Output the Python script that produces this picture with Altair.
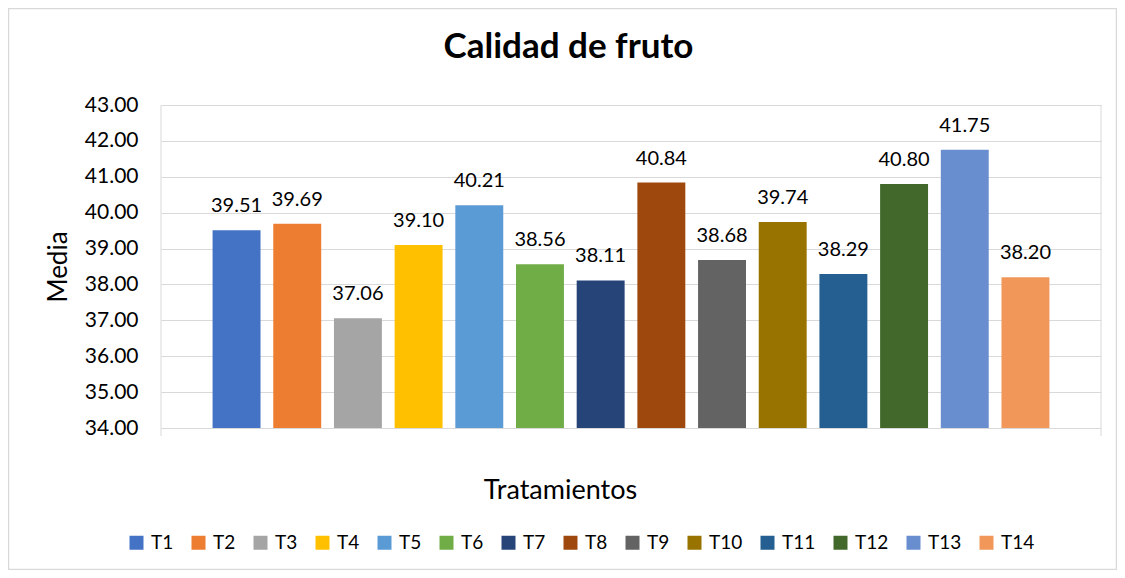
import altair as alt
import pandas as pd

# ---- data ----
tratamientos = ["T1", "T2", "T3", "T4", "T5", "T6", "T7", "T8", "T9", "T10", "T11", "T12", "T13", "T14"]
medias = [39.51, 39.69, 37.06, 39.10, 40.21, 38.56, 38.11, 40.84, 38.68, 39.74, 38.29, 40.80, 41.75, 38.20]
colores = ["#4472C4", "#ED7D31", "#A5A5A5", "#FFC000", "#5B9BD5", "#70AD47", "#264478",
           "#9E480E", "#636363", "#997300", "#255E91", "#43682B", "#698ED0", "#F1975A"]
y_ticks = [34, 35, 36, 37, 38, 39, 40, 41, 42, 43]
titulo = "Calidad de fruto"
eje_y = "Media"
eje_x = "Tratamientos"

df = pd.DataFrame({"Tratamiento": tratamientos, "Media": medias})

FONT = "Lato"
GRID = "#d9d9d9"
W, H = 940, 323

x_axis = alt.Axis(labels=False, ticks=False, domain=False, grid=False,
                  title=eje_x, titleFont=FONT, titleFontSize=27, titleFontWeight="normal",
                  titleColor="#000000", titleX=399, titleY=70,
                  titleBaseline="alphabetic", titleAlign="center")
x_scale = alt.Scale(paddingInner=0.21, paddingOuter=0.85)
x = alt.X("Tratamiento:N", sort=tratamientos, scale=x_scale, axis=x_axis)

y_axis = alt.Axis(values=y_ticks, format=".2f", ticks=False, domain=False,
                  labelPadding=23, labelFontSize=21, labelFont=FONT, labelColor="#000000",
                  labelOverlap=False, tickCount=10,
                  gridColor=GRID, gridWidth=1,
                  title=eje_y, titleFont=FONT, titleFontSize=26, titleFontWeight="normal",
                  titleColor="#000000", titleX=-103, titleY=161.5,
                  titleBaseline="middle", titleAlign="center", titleAngle=270)
y_scale = alt.Scale(domain=[34, 43], zero=False, nice=False)
y = alt.Y("Media:Q", scale=y_scale, axis=y_axis)

color = alt.Color(
    "Tratamiento:N",
    scale=alt.Scale(domain=tratamientos, range=colores),
    legend=alt.Legend(title=None, orient="none", legendX=-34, legendY=428,
                      direction="horizontal", columns=14, symbolType="square",
                      symbolSize=196, symbolStrokeWidth=0, labelFont=FONT,
                      labelFontSize=19, labelColor="#000000", labelOffset=5,
                      columnPadding=15),
)

bars = alt.Chart(df).mark_bar().encode(x=x, y=y, y2=alt.datum(34), color=color)

labels = alt.Chart(df).mark_text(
    dy=-18, baseline="alphabetic", fontSize=20, font=FONT, color="#000000"
).encode(
    x=x,
    y=y,
    text=alt.Text("Media:Q", format=".2f"),
)

one = pd.DataFrame({"t": [titulo]})

title = alt.Chart(one).mark_text(
    font=FONT, fontSize=35, fontWeight="bold", baseline="alphabetic", align="center", color="#000000"
).encode(text="t:N", x=alt.value(407.5), y=alt.value(-47))

border = alt.Chart(one).mark_rect(fillOpacity=0, stroke=GRID, strokeWidth=1.5).encode(
    x=alt.value(-152.5), x2=alt.value(955.5), y=alt.value(-96.5), y2=alt.value(464.5)
)

rule_l = alt.Chart(one).mark_rule(color=GRID, strokeWidth=1).encode(
    x=alt.value(0), y=alt.value(0), y2=alt.value(331)
)
rule_r = alt.Chart(one).mark_rule(color=GRID, strokeWidth=1).encode(
    x=alt.value(W), y=alt.value(0), y2=alt.value(331)
)

chart = alt.layer(border, rule_l, rule_r, bars, labels, title).properties(
    width=W, height=H,
    padding={"left": 153, "top": 97, "right": 16, "bottom": 142},
    autosize=alt.AutoSizeParams(type="none"),
).configure_view(strokeWidth=0)

chart.save("out.html", embed_options={"renderer": "svg", "actions": False})
